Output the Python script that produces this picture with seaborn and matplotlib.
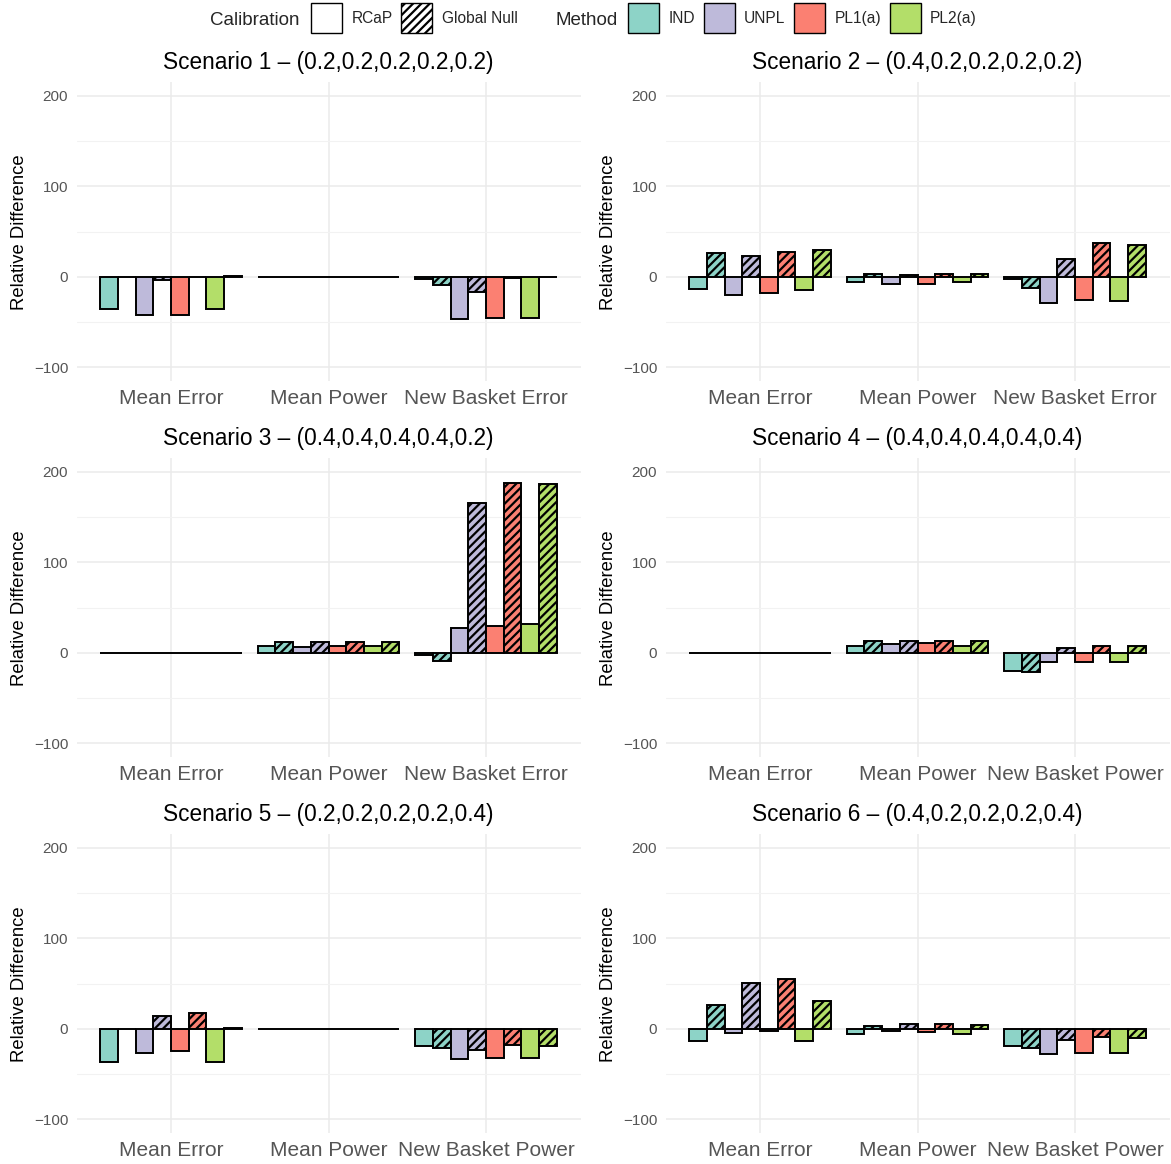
import numpy as np
import pandas as pd
import matplotlib
matplotlib.use("Agg")
import matplotlib.pyplot as plt
import seaborn as sns
from matplotlib.patches import Patch

# ---------------- data ----------------
methods = ["IND", "UNPL", "PL1(a)", "PL2(a)"]
calibrations = ["RCaP", "Global Null"]
method_colors = ["#8DD3C7", "#BEBADA", "#FB8072", "#B3DE69"]

titles = [
    "Scenario 1 \u2013 (0.2,0.2,0.2,0.2,0.2)",
    "Scenario 2 \u2013 (0.4,0.2,0.2,0.2,0.2)",
    "Scenario 3 \u2013 (0.4,0.4,0.4,0.4,0.2)",
    "Scenario 4 \u2013 (0.4,0.4,0.4,0.4,0.4)",
    "Scenario 5 \u2013 (0.2,0.2,0.2,0.2,0.4)",
    "Scenario 6 \u2013 (0.4,0.2,0.2,0.2,0.4)",
]
metrics_error = ["Mean Error", "Mean Power", "New Basket Error"]
metrics_power = ["Mean Error", "Mean Power", "New Basket Power"]
panel_metrics = [metrics_error, metrics_error, metrics_error,
                 metrics_power, metrics_power, metrics_power]

# rows = metrics; columns = IND-RCaP, IND-GN, UNPL-RCaP, UNPL-GN, PL1-RCaP, PL1-GN, PL2-RCaP, PL2-GN
scenario1 = [[-35.5, 0, -42.5, -3, -41.7, 0, -35.5, 1.5],
             [0, 0, 0, 0, 0, 0, 0, 0],
             [-2, -9, -47, -17, -45.5, -1, -45.5, -0.5]]
scenario2 = [[-13.5, 26, -20.5, 23, -17.5, 27.5, -14, 30],
             [-5.5, 3, -8, 2, -7.5, 3, -5.5, 3.5],
             [-2, -12, -29, 19.5, -25, 37, -26.5, 35.5]]
scenario3 = [[0, 0, 0, 0, 0, 0, 0, 0],
             [8, 12.5, 6.3, 12.5, 7.4, 12.5, 7.8, 12.5],
             [-2.6, -9.3, 27.8, 166, 29.6, 187.4, 31.5, 186.7]]
scenario4 = [[0, 0, 0, 0, 0, 0, 0, 0],
             [7.8, 13, 10.4, 13.7, 10.7, 13.7, 7.4, 13.3],
             [-19.6, -21.5, -9.6, 5.6, -9.6, 8.1, -9.6, 8.1]]
scenario5 = [[-36, 0, -26.7, 14.8, -24.8, 17.8, -36, 1.5],
             [0, 0, 0, 0, 0, 0, 0, 0],
             [-18.5, -21.5, -33.3, -23.3, -32.6, -18.1, -32.6, -18.5]]
scenario6 = [[-13, 26.7, -4.8, 50.7, -2.6, 54.8, -13.7, 30.7],
             [-5.2, 3.7, -2.6, 5.2, -3, 5.9, -5.2, 4.4],
             [-18.5, -21.5, -27.4, -12.6, -26.3, -8.9, -26.3, -9.6]]
scenarios = [scenario1, scenario2, scenario3, scenario4, scenario5, scenario6]

# ---------------- style ----------------
sns.set_theme(style="white")
plt.rcParams["font.family"] = ["Liberation Sans", "DejaVu Sans"]
plt.rcParams["hatch.linewidth"] = 1.6
plt.rcParams["hatch.color"] = "#2a2a2a"
HATCH = "////"

combos = [f"{m} | {c}" for m in methods for c in calibrations]
palette = {f"{m} | {c}": col for m, col in zip(methods, method_colors) for c in calibrations}

fig = plt.figure(figsize=(11.71, 11.64), dpi=100)
W, H = 1171.0, 1164.0
col_x = [76.5, 665.5]
ax_w = 504.0
row_top = [82.4, 458.4, 834.4]
ax_h = 298.6

for i, (sc, title, mets) in enumerate(zip(scenarios, titles, panel_metrics)):
    r, c = divmod(i, 2)
    ax = fig.add_axes([col_x[c] / W, 1 - (row_top[r] + ax_h) / H, ax_w / W, ax_h / H])
    rows = []
    for mi, met in enumerate(mets):
        for ci, combo in enumerate(combos):
            rows.append({"metric": met, "combo": combo, "value": sc[mi][ci]})
    df = pd.DataFrame(rows)
    sns.barplot(data=df, x="metric", y="value", hue="combo", order=mets,
                hue_order=combos, palette=palette, width=0.9, gap=0,
                errorbar=None, edgecolor="black", linewidth=1.4,
                saturation=1, legend=False, ax=ax, zorder=3)
    for k, cont in enumerate(ax.containers):
        for p in cont:
            p.set_edgecolor("black")
            p.set_linewidth(1.4)
            if k % 2 == 1:
                p.set_hatch(HATCH)
    ax.set_ylim(-115, 215)
    ax.set_xlim(-0.6, 2.6)
    ax.set_yticks([-100, 0, 100, 200])
    ax.set_yticks([-50, 50, 150], minor=True)
    ax.grid(True, which="major", axis="both", color="#EBEBEB", linewidth=1.1, zorder=0)
    ax.grid(True, which="minor", axis="y", color="#F2F2F2", linewidth=0.8, zorder=0)
    ax.set_axisbelow(True)
    for s in ax.spines.values():
        s.set_visible(False)
    ax.tick_params(axis="x", length=0, pad=6, labelsize=15, labelcolor="#555555")
    ax.tick_params(axis="y", which="both", length=0, pad=6, labelsize=11, labelcolor="#555555")
    ax.set_xlabel("")
    ax.set_ylabel("Relative Difference", fontsize=13.3, color="black", labelpad=4)
    ax.set_title(title, fontsize=16.3, color="black", pad=10)

# ---------------- legend ----------------
fs = 11.2
cal_handles = [Patch(facecolor="white", edgecolor="black", linewidth=1.0),
               Patch(facecolor="white", edgecolor="black", linewidth=1.0, hatch="////")]
leg1 = fig.legend(cal_handles, calibrations, loc="upper left",
                  bbox_to_anchor=(311 / W, 1 - 3.0 / H), ncol=2, frameon=False,
                  fontsize=fs, handlelength=2.0, handleheight=2.6,
                  handletextpad=0.6, columnspacing=0.55, borderpad=0, borderaxespad=0)
meth_handles = [Patch(facecolor=col, edgecolor="black", linewidth=1.0) for col in method_colors]
leg2 = fig.legend(meth_handles, methods, loc="upper left",
                  bbox_to_anchor=(628 / W, 1 - 3.0 / H), ncol=4, frameon=False,
                  fontsize=fs, handlelength=2.0, handleheight=2.6,
                  handletextpad=0.6, columnspacing=0.55, borderpad=0, borderaxespad=0)
fig.text(300 / W, 1 - 18.5 / H, "Calibration", ha="right", va="center_baseline", fontsize=13.5)
fig.text(618 / W, 1 - 18.5 / H, "Method", ha="right", va="center_baseline", fontsize=13.5)

fig.savefig("out.png", dpi=100)
